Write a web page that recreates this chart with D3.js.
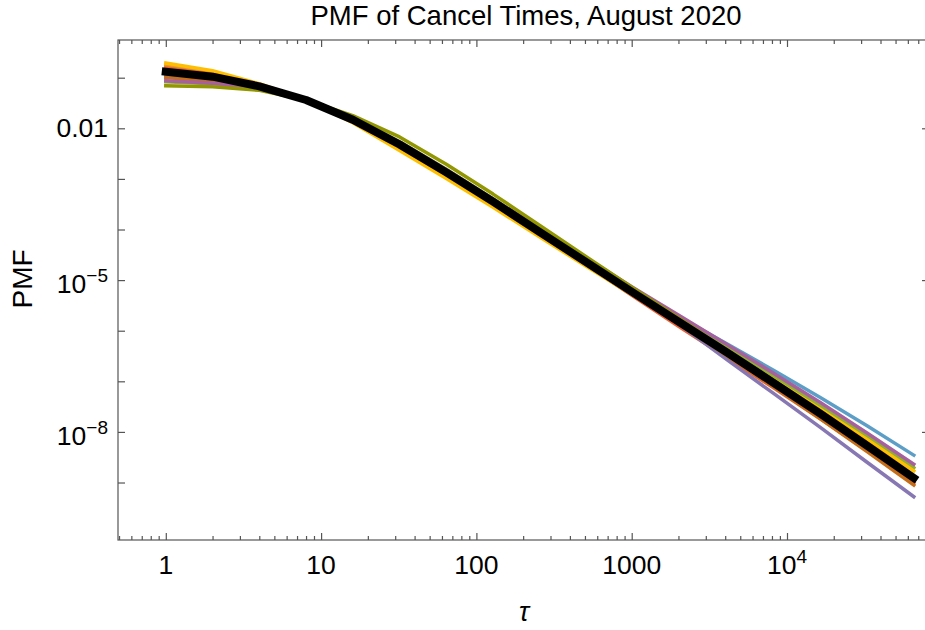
<!DOCTYPE html>
<html>
<head>
<meta charset="utf-8">
<script src="https://cdn.jsdelivr.net/npm/d3@7"></script>
<style>
  body { margin: 0; background: #fff; }
  text { font-family: "Liberation Sans", Arial, sans-serif; fill: #000; }
</style>
</head>
<body>
<svg id="chart" width="925" height="630"></svg>
<script>
// ---------- data ----------
const tau = [1, 2, 4, 8, 16, 32, 64, 128, 256, 512, 1024, 2048, 4096, 8192, 16384, 32768, 65536];

const series01 = [1.318e-1, 1.047e-1, 6.761e-2, 3.631e-2, 1.479e-2, 4.786e-3, 1.349e-3, 3.548e-4, 8.913e-5, 2.239e-5, 5.754e-6, 1.479e-6, 3.802e-7, 9.772e-8, 2.399e-8, 5.623e-9, 1.318e-9];
const series02 = [1.778e-1, 1.288e-1, 7.413e-2, 3.631e-2, 1.349e-2, 3.981e-3, 1.096e-3, 2.951e-4, 7.586e-5, 1.950e-5, 5.012e-6, 1.318e-6, 3.467e-7, 8.710e-8, 2.188e-8, 5.129e-9, 1.175e-9];
const series03 = [8.318e-2, 7.586e-2, 5.888e-2, 3.631e-2, 1.622e-2, 5.495e-3, 1.549e-3, 4.074e-4, 1.023e-4, 2.570e-5, 6.607e-6, 1.778e-6, 4.786e-7, 1.259e-7, 3.236e-8, 8.128e-9, 1.950e-9];
const series04 = [1.549e-1, 1.175e-1, 7.079e-2, 3.631e-2, 1.413e-2, 4.365e-3, 1.202e-3, 3.162e-4, 7.943e-5, 1.995e-5, 4.786e-6, 1.175e-6, 2.951e-7, 7.413e-8, 1.820e-8, 4.266e-9, 9.772e-10];
const series05 = [1.096e-1, 9.333e-2, 6.457e-2, 3.631e-2, 1.549e-2, 5.248e-3, 1.514e-3, 3.981e-4, 1.000e-4, 2.455e-5, 5.754e-6, 1.288e-6, 2.692e-7, 5.754e-8, 1.230e-8, 2.512e-9, 5.248e-10];
const series06 = [1.000e-1, 8.710e-2, 6.310e-2, 3.631e-2, 1.514e-2, 4.898e-3, 1.380e-3, 3.548e-4, 8.913e-5, 2.188e-5, 5.370e-6, 1.318e-6, 3.236e-7, 7.762e-8, 1.820e-8, 4.074e-9, 8.913e-10];
const series07 = [1.380e-1, 1.072e-1, 6.761e-2, 3.631e-2, 1.445e-2, 4.571e-3, 1.259e-3, 3.311e-4, 8.511e-5, 2.239e-5, 6.166e-6, 1.820e-6, 5.495e-7, 1.660e-7, 4.786e-8, 1.318e-8, 3.467e-9];
const series08 = [1.950e-1, 1.380e-1, 7.586e-2, 3.631e-2, 1.288e-2, 3.631e-3, 1.023e-3, 2.754e-4, 7.079e-5, 1.862e-5, 5.012e-6, 1.413e-6, 3.981e-7, 1.072e-7, 2.818e-8, 7.079e-9, 1.698e-9];
const series09 = [8.710e-2, 7.762e-2, 6.026e-2, 3.631e-2, 1.585e-2, 5.370e-3, 1.514e-3, 3.981e-4, 1.023e-4, 2.692e-5, 7.079e-6, 1.950e-6, 5.370e-7, 1.445e-7, 3.802e-8, 9.550e-9, 2.291e-9];
const series10 = [6.918e-2, 6.607e-2, 5.623e-2, 3.631e-2, 1.778e-2, 6.761e-3, 1.950e-3, 5.012e-4, 1.202e-4, 2.884e-5, 6.918e-6, 1.698e-6, 4.266e-7, 1.047e-7, 2.512e-8, 5.754e-9, 1.288e-9];
const meanPMF  = [1.318e-1, 1.047e-1, 6.761e-2, 3.631e-2, 1.479e-2, 4.786e-3, 1.349e-3, 3.548e-4, 8.913e-5, 2.239e-5, 5.623e-6, 1.445e-6, 3.715e-7, 9.333e-8, 2.291e-8, 5.370e-9, 1.230e-9];

const seriesList = [series01, series02, series03, series04, series05, series06, series07, series08, series09, series10];
const seriesColors = ["#5E81B5", "#E19C24", "#8FB032", "#EB6235", "#8778B3", "#C56E1A", "#5D9EC7", "#FFBF00", "#A5609D", "#929600"];

const xMajorTicks = [1, 10, 100, 1000, 10000];
const xMajorLabels = [["1"], ["10"], ["100"], ["1000"], ["10", "4"]];
const yLabelTicks = [1e-2, 1e-5, 1e-8];
const yLabels = [["0.01"], ["10", "\u22125"], ["10", "\u22128"]];
const yMinorTicks = [1e-1, 1e-3, 1e-4, 1e-6, 1e-7, 1e-9];

const titleText = "PMF of Cancel Times, August 2020";
const xLabelText = "\u03C4";
const yLabelText = "PMF";

// ---------- layout ----------
const L = 118, R = 929, T = 40, B = 540;
const svg = d3.select("#chart");
svg.append("rect").attr("width", 925).attr("height", 630).attr("fill", "#fff");

const x = d3.scaleLog().domain([0.4923, 82100]).range([L, R]);
const y = d3.scaleLog().domain([7.31e-11, 0.556]).range([B, T]);

// minor x ticks (2..9 times each power of ten inside the domain)
const xMinor = [];
for (let e = -1; e <= 4; e++) {
  for (let m = 2; m <= 9; m++) {
    const v = m * Math.pow(10, e);
    if (v > x.domain()[0] && v < x.domain()[1]) xMinor.push(v);
  }
}

const frameColor = "#555";

function styleAxis(g) {
  g.select(".domain").remove();
  g.selectAll(".tick line").attr("stroke", frameColor).attr("stroke-width", 1.2);
  g.selectAll(".tick text").remove();
}

// bottom axis (ticks inward)
svg.append("g").attr("transform", `translate(0,${B})`)
  .call(d3.axisBottom(x).tickValues(xMajorTicks).tickSize(-7).tickFormat(""))
  .call(styleAxis);
svg.append("g").attr("transform", `translate(0,${B})`)
  .call(d3.axisBottom(x).tickValues(xMinor).tickSize(-4).tickFormat(""))
  .call(styleAxis);
// top axis
svg.append("g").attr("transform", `translate(0,${T})`)
  .call(d3.axisTop(x).tickValues(xMajorTicks).tickSize(-7).tickFormat(""))
  .call(styleAxis);
svg.append("g").attr("transform", `translate(0,${T})`)
  .call(d3.axisTop(x).tickValues(xMinor).tickSize(-4).tickFormat(""))
  .call(styleAxis);
// left axis
svg.append("g").attr("transform", `translate(${L},0)`)
  .call(d3.axisLeft(y).tickValues(yLabelTicks.concat(yMinorTicks)).tickSize(-7).tickFormat(""))
  .call(styleAxis);
// right axis
svg.append("g").attr("transform", `translate(${R},0)`)
  .call(d3.axisRight(y).tickValues(yLabelTicks).tickSize(-7).tickFormat(""))
  .call(styleAxis);

// frame
svg.append("rect").attr("x", L).attr("y", T).attr("width", R - L).attr("height", B - T)
  .attr("fill", "none").attr("stroke", frameColor).attr("stroke-width", 1.2);

// x tick labels
xMajorTicks.forEach((v, i) => {
  const lab = xMajorLabels[i];
  const t = svg.append("text").attr("x", x(v)).attr("y", 574)
    .attr("text-anchor", "middle").attr("font-size", 26.5);
  t.append("tspan").text(lab[0]);
  if (lab[1]) t.append("tspan").attr("dy", -11).attr("font-size", 19).text(lab[1]);
});

// y tick labels
yLabelTicks.forEach((v, i) => {
  const lab = yLabels[i];
  const t = svg.append("text").attr("x", 108)
    .attr("y", y(v) + (lab[1] ? 13 : 9))
    .attr("text-anchor", "end").attr("font-size", 26.5);
  t.append("tspan").text(lab[0]);
  if (lab[1]) t.append("tspan").attr("dy", -11).attr("font-size", 19).text(lab[1]);
});

// lines
svg.append("clipPath").attr("id", "clip").append("rect")
  .attr("x", L).attr("y", T).attr("width", R - L).attr("height", B - T);
const line = d3.line().x((d, i) => x(tau[i])).y(d => y(d));
const gLines = svg.append("g").attr("clip-path", "url(#clip)");
seriesList.forEach((s, i) => {
  gLines.append("path").datum(s).attr("d", line)
    .attr("fill", "none").attr("stroke", seriesColors[i])
    .attr("stroke-width", 3.5).attr("stroke-linejoin", "round").attr("stroke-linecap", "square");
});
gLines.append("path").datum(meanPMF).attr("d", line)
  .attr("fill", "none").attr("stroke", "#000")
  .attr("stroke-width", 8).attr("stroke-linejoin", "round").attr("stroke-linecap", "square");

// titles
svg.append("text").attr("x", 526).attr("y", 25).attr("text-anchor", "middle")
  .attr("font-size", 27.5).text(titleText);
svg.append("text").attr("x", 524).attr("y", 621).attr("text-anchor", "middle")
  .attr("font-size", 27).attr("font-style", "italic").text(xLabelText);
svg.append("text").attr("transform", "translate(32,279) rotate(-90)")
  .attr("text-anchor", "middle").attr("font-size", 28).text(yLabelText);
</script>
</body>
</html>
